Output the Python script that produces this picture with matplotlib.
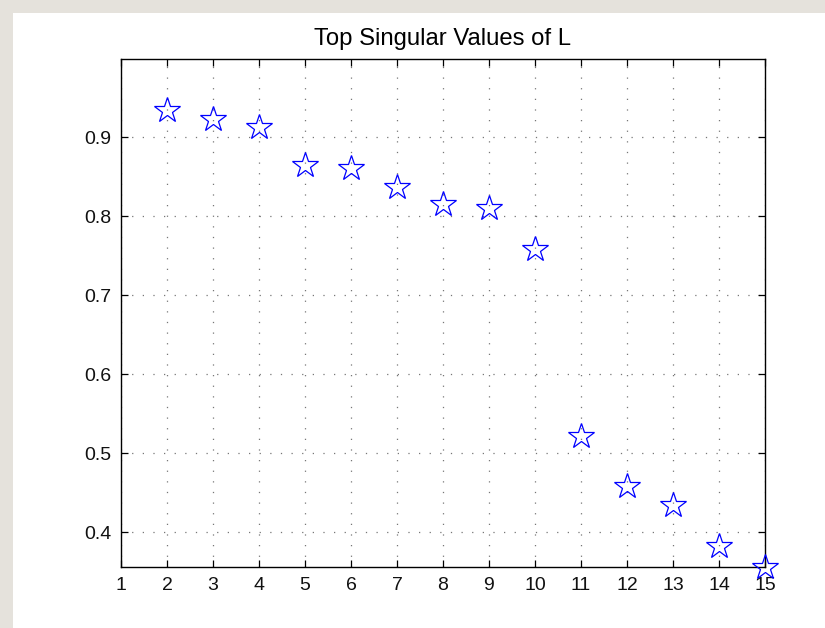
import matplotlib
matplotlib.use("Agg")
import matplotlib.pyplot as plt
from matplotlib.patches import Rectangle

plt.rcParams['font.family'] = ['Liberation Sans', 'DejaVu Sans']

# singular values, index 2..15
idx = list(range(2, 16))
sv = [0.935, 0.923, 0.913, 0.865, 0.861, 0.837, 0.815, 0.810,
      0.758, 0.522, 0.459, 0.434, 0.382, 0.356]
xticks = list(range(1, 16))
yticks = [0.4, 0.5, 0.6, 0.7, 0.8, 0.9]

W, H = 825, 628
fig = plt.figure(figsize=(W / 100, H / 100), dpi=100)
fig.patch.set_facecolor('#e5e2dc')

# white sheet behind the axes
fig.patches.append(Rectangle((13 / W, 0), 1, 1 - 13 / H, transform=fig.transFigure,
                             facecolor='white', edgecolor='none', zorder=-10))

ax = fig.add_axes([121 / W, 1 - 567 / H, (765 - 121) / W, (567 - 59) / H])
ax.set_facecolor('white')

ax.plot(idx, sv, linestyle='none', marker='*', markersize=19,
        markerfacecolor='none', markeredgecolor='blue', markeredgewidth=0.9,
        clip_on=False, zorder=5)

ax.set_xlim(1, 15)
ax.set_ylim(0.356, 0.999)
ax.set_xticks(xticks)
ax.set_yticks(yticks)
ax.set_yticklabels([f'{v:.1f}' for v in yticks])

ax.grid(True, linestyle=(0, (1, 7.5)), color='#777777', linewidth=0.9)
ax.tick_params(direction='in', length=5, width=0.9, top=True, right=True,
               labelsize=14, pad=7, color='black', labelcolor='#111111')
for s in ax.spines.values():
    s.set_linewidth(1.0)
    s.set_color('black')

ax.set_title('Top Singular Values of L', fontsize=17.2, pad=10)

fig.savefig('out.png', dpi=100, facecolor=fig.get_facecolor())
